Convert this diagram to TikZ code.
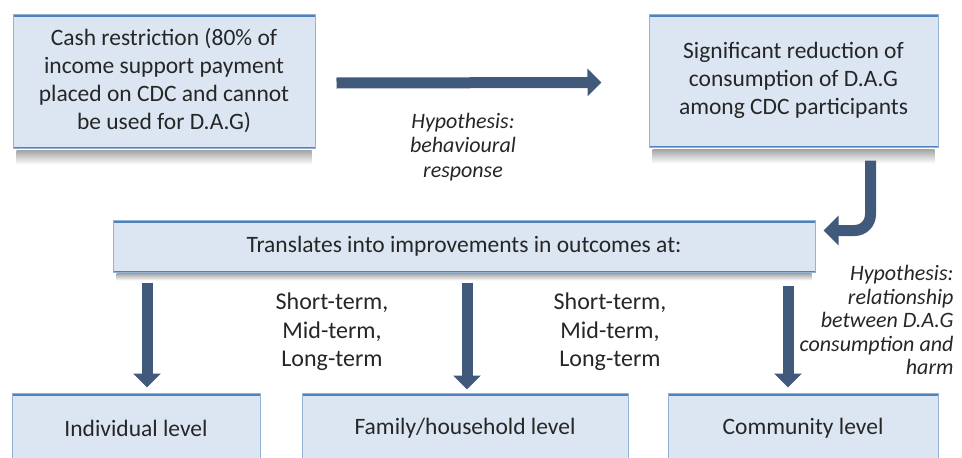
\documentclass[tikz,border=0pt]{standalone}
\usepackage{fontspec}
\setmainfont{Carlito}
\usetikzlibrary{calc,arrows.meta}
\definecolor{boxfill}{HTML}{DCE6F2}
\definecolor{boxline}{HTML}{95B3D7}
\definecolor{boxedge}{HTML}{4F81BD}
\definecolor{arrowfill}{HTML}{41597B}
\definecolor{txt}{HTML}{262626}

\begin{document}
\begin{tikzpicture}[x=1pt,y=-1pt,
  box/.style={draw=boxline,line width=1pt,fill=boxfill,text=txt,align=center,inner sep=0pt,
    font=\fontsize{23.5}{28}\selectfont,
    path picture={\draw[boxedge,line width=5pt] (path picture bounding box.north west) -- (path picture bounding box.north east);
      \draw[boxedge,line width=3pt] (path picture bounding box.south west) -- (path picture bounding box.south east);}},
  fatarrow/.style={arrowfill,line width=11pt,-{Triangle[width=27pt,length=14pt]}},
  boxshadow/.style={top color=black!35,bottom color=white},
  note/.style={text=txt,font=\fontsize{22}{24.5}\selectfont\itshape},
  terms/.style={text=txt,align=center,font=\fontsize{24}{28.5}\selectfont}]

\useasboundingbox (0,0) rectangle (962,458);
\clip (0,0) rectangle (962,458);

\node [box,minimum width=302pt,minimum height=134pt] (cash) at (164,81) {Cash restriction (80\% of\\income support payment\\placed on CDC and cannot\\be used for D.A.G)};

\node [box,minimum width=289pt,minimum height=133pt] (reduce) at (793.5,80.5) {Significant reduction of\\consumption of D.A.G\\among CDC participants};

\node [box,minimum width=702pt,minimum height=52pt] (trans) at (464,246) {Translates into improvements in outcomes at:};

\node [box,minimum width=248pt,minimum height=70pt] (indiv) at (136,428) {Individual level};

\node [box,minimum width=326pt,minimum height=70pt] (family) at (465,428) {Family/household level};

\node [box,minimum width=270pt,minimum height=70pt] (comm) at (803,428) {Community level};

\shade [boxshadow] ($(cash.south west)+(4,2)$) rectangle ($(cash.south east)+(-4,16)$);

\shade [boxshadow] ($(reduce.south west)+(4,2)$) rectangle ($(reduce.south east)+(-4,16)$);

\shade [boxshadow] ($(trans.south west)+(4,1)$) rectangle ($(trans.south east)+(-4,8)$);

\node [note,align=center] (hypbehav) at (463,147) {Hypothesis:\\behavioural\\response};

\node [note,align=right,anchor=east,font=\fontsize{22}{23.5}\selectfont\itshape] (hypharm) at (957,320) {Hypothesis:\\relationship\\between D.A.G\\consumption and\\harm};

\node [terms] (terms1) at (332,332) {Short-term,\\Mid-term,\\Long-term};

\node [terms] (terms2) at (610,332) {Short-term,\\Mid-term,\\Long-term};

\draw [fatarrow] ($(cash.east)+(21,2)$) -- ($(reduce.west)+(-47,2)$);

\draw [fatarrow,rounded corners=16pt,-{Triangle[width=29pt,length=15pt]}] ($(reduce.south east)+(-68,13)$) |- ($(trans.north east)+(8,11)$);

\draw [fatarrow] ($(trans.south -| indiv.north)+(11,10)$) -- ($(indiv.north)+(11,-5)$);

\draw [fatarrow] ($(trans.south -| family.north)+(2,10)$) -- ($(family.north)+(2,-3)$);

\draw [fatarrow] ($(trans.south -| comm.north)+(-15,13)$) -- ($(comm.north)+(-15,-5)$);

\end{tikzpicture}
\end{document}
